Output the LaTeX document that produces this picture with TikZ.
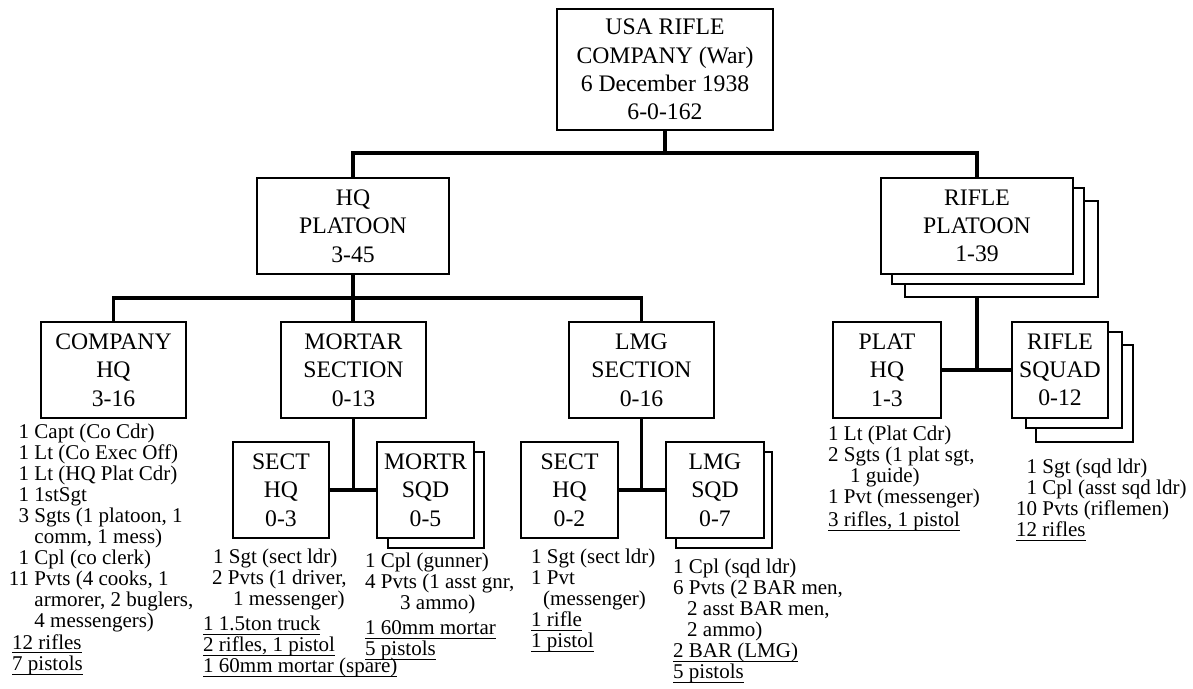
\documentclass[tikz,border=0pt]{standalone}
\usepackage{fontspec}
\setmainfont{Liberation Serif}
\usetikzlibrary{backgrounds}
\newcommand\nm[1]{\makebox[1em][r]{#1}\ }
\newcommand\ulx[1]{\setbox0\hbox{#1}\rlap{\rule[-4.4pt]{\wd0}{1pt}}\box0}
\begin{document}
\begin{tikzpicture}[x=1pt,y=-1pt,
  box/.style={draw,line width=2.4pt,fill=white,inner sep=0pt,align=center,
    font=\fontsize{23.7}{28.3}\selectfont},
  conn/.style={line width=3.5pt},
  list/.style={inner sep=0pt,anchor=base west,font=\fontsize{21}{21.1}\selectfont}]
\useasboundingbox (0,0) rectangle (1193,688);

% ---- boxes ----
\node[box,minimum width=216pt,minimum height=121pt] (top) at (665,69.5)
  {USA RIFLE\\COMPANY (War)\\6 December 1938\\6-0-162};
\node[box,minimum width=192pt,minimum height=96pt] (hq) at (353,226)
  {HQ\\PLATOON\\3-45};
\node[box,minimum width=193pt,minimum height=96pt] (rp3) at (1001.5,249) {};
\node[box,minimum width=192pt,minimum height=96pt] (rp2) at (988,236) {};
\node[box,minimum width=192pt,minimum height=96pt] (rp) at (977,226)
  {RIFLE\\PLATOON\\1-39};

\node[box,minimum width=145pt,minimum height=96pt] (chq) at (113.5,370)
  {COMPANY\\HQ\\3-16};
\node[box,minimum width=145pt,minimum height=96pt] (mort) at (353.5,370)
  {MORTAR\\SECTION\\0-13};
\node[box,minimum width=145pt,minimum height=96pt] (lmg) at (641.5,370)
  {LMG\\SECTION\\0-16};

\node[box,minimum width=96pt,minimum height=96pt] (mhq) at (281,490)
  {SECT\\HQ\\0-3};
\node[box,minimum width=96pt,minimum height=96pt] (msq2) at (436,500) {};
\node[box,minimum width=97pt,minimum height=96pt] (msq) at (425.5,490)
  {MORTR\\SQD\\0-5};

\node[box,minimum width=97pt,minimum height=96pt] (lhq) at (569.5,490)
  {SECT\\HQ\\0-2};
\node[box,minimum width=96pt,minimum height=96pt] (lsq2) at (724,500) {};
\node[box,minimum width=98pt,minimum height=96pt] (lsq) at (715,490)
  {LMG\\SQD\\0-7};

\node[box,minimum width=108pt,minimum height=96pt] (ph) at (887,370)
  {PLAT\\HQ\\1-3};
\node[box,minimum width=97pt,minimum height=97pt] (rs3) at (1084.5,393.5) {};
\node[box,minimum width=96pt,minimum height=96pt] (rs2) at (1074,380) {};
\node[box,minimum width=96pt,minimum height=96pt] (rs) at (1060,370)
  {RIFLE\\SQUAD\\0-12};

% ---- connectors ----
\begin{scope}[on background layer]
\coordinate (busT) at (665,153);
\coordinate (busH) at (353,298);
\draw[conn] (top.south) -- (busT);
\draw[conn] (hq.north) |- (busT) -| (rp.north);
\draw[conn] (hq.south) -- (busH);
\draw[conn] (chq.north) |- (busH) -| (lmg.north);
\draw[conn] (busH) -- (busH |- mort.north);
\draw[conn] (mort.south) -- (mort.south |- mhq.east);
\draw[conn] (mhq.east) -- (msq.west);
\draw[conn] (lmg.south) -- (lmg.south |- lhq.east);
\draw[conn] (lhq.east) -- (lsq.west);
\draw[conn] (rp.south) -- (rp.south |- ph.east);
\draw[conn] (ph.east) -- (rs.west);
\end{scope}

% ---- lists ----
\node[list] (tA) at (8,438) {\begin{tabular}[t]{@{}l@{}}
\nm{1}Capt (Co Cdr)\\
\nm{1}Lt (Co Exec Off)\\
\nm{1}Lt (HQ Plat Cdr)\\
\nm{1}1stSgt\\
\nm{3}Sgts (1 platoon, 1\\
\hspace*{1.25em}comm, 1 mess)\\
\nm{1}Cpl (co clerk)\\
\nm{11}Pvts (4 cooks, 1\\
\hspace*{1.25em}armorer, 2 buglers,\\
\hspace*{1.25em}4 messengers)\\
\hspace*{4pt}\ulx{12 rifles}\\
\hspace*{4pt}\ulx{7 pistols}
\end{tabular}};

\node[list] (tB) at (203,563) {\begin{tabular}[t]{@{}l@{}}
\hspace*{10pt}1 Sgt (sect ldr)\\
\hspace*{9pt}2 Pvts (1 driver,\\
\hspace*{30pt}1 messenger)\\[4pt]
\ulx{1 1.5ton truck}\\
\ulx{2 rifles, 1 pistol}\\
\ulx{1 60mm mortar (spare)}
\end{tabular}};

\node[list] (tC) at (365,567) {\begin{tabular}[t]{@{}l@{}}
1 Cpl (gunner)\\
4 Pvts (1 asst gnr,\\
\hspace*{35pt}3 ammo)\\[4pt]
\ulx{1 60mm mortar}\\
\ulx{5 pistols}
\end{tabular}};

\node[list] (tD) at (531,563) {\begin{tabular}[t]{@{}l@{}}
1 Sgt (sect ldr)\\
1 Pvt\\
\hspace*{12pt}(messenger)\\
\ulx{1 rifle}\\
\ulx{1 pistol}
\end{tabular}};

\node[list] (tE) at (673,573) {\begin{tabular}[t]{@{}l@{}}
1 Cpl (sqd ldr)\\
6 Pvts (2 BAR men,\\
\hspace*{14pt}2 asst BAR men,\\
\hspace*{14pt}2 ammo)\\
\ulx{2 BAR (LMG)}\\
\ulx{5 pistols}
\end{tabular}};

\node[list] (tF) at (828,440) {\begin{tabular}[t]{@{}l@{}}
1 Lt (Plat Cdr)\\
2 Sgts (1 plat sgt,\\
\hspace*{22pt}1 guide)\\
1 Pvt (messenger)\\[2pt]
\ulx{3 rifles, 1 pistol}
\end{tabular}};

\node[list] (tG) at (1016,473) {\begin{tabular}[t]{@{}l@{}}
\nm{1}Sgt (sqd ldr)\\
\nm{1}Cpl (asst sqd ldr)\\
\nm{10}Pvts (riflemen)\\
\ulx{12 rifles}
\end{tabular}};
\end{tikzpicture}
\end{document}
